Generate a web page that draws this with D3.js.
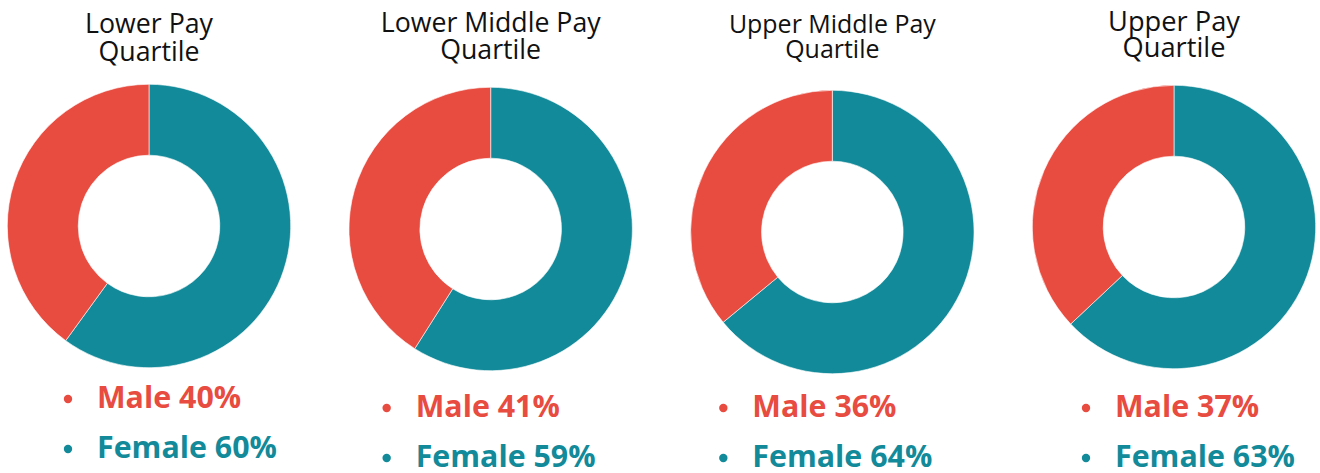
<!DOCTYPE html>
<html>
<head>
<meta charset="utf-8">
<script src="https://cdn.jsdelivr.net/npm/d3@7"></script>
<style>
  body { margin: 0; background: #fff; }
  svg { display: block; }
</style>
</head>
<body>
<svg id="chart" width="1320" height="473"></svg>
<script>
// data
const quartiles = ["Lower Pay Quartile", "Lower Middle Pay Quartile", "Upper Middle Pay Quartile", "Upper Pay Quartile"];
const titleLines = [["Lower Pay", "Quartile"], ["Lower Middle Pay", "Quartile"], ["Upper Middle Pay", "Quartile"], ["Upper Pay", "Quartile"]];
const seriesNames = ["Male", "Female"];
const malePct = [40, 41, 36, 37];
const femalePct = [60, 59, 64, 63];

const colors = { Male: "#e84b3f", Female: "#128a99" };

// per-panel layout tweaks (the panels are not perfectly aligned in the original)
// titleW = width of the first title line in the original, used to size the font
const panelLayout = [
  { dy: -2, titleY: 33, titleGap: 28, titleW: 128, legendDx: -81,  legendY: 408 },
  { dy: 1,  titleY: 32, titleGap: 27, titleW: 220, legendDx: -104, legendY: 417 },
  { dy: 4,  titleY: 33, titleGap: 25, titleW: 207, legendDx: -109, legendY: 417 },
  { dy: -1, titleY: 31, titleGap: 26, titleW: 132, legendDx: -88,  legendY: 417 }
];
const titleFont = "'Open Sans', 'Noto Sans', sans-serif";
const legendFont = "'Open Sans', 'Noto Sans', sans-serif";

const svg = d3.select("#chart");

const xScale = d3.scalePoint().domain(quartiles).range([149, 1174]);
const cyBase = 228;
const outerR = 141.7, innerR = 70.8;

const pie = d3.pie().sort(null).value(d => d.value);
const arc = d3.arc().innerRadius(innerR).outerRadius(outerR);

// size legend font so "Female 60%" is about 180px wide, like the original
const probe = svg.append("text")
  .attr("font-family", legendFont).attr("font-weight", 700).attr("font-size", 30)
  .text("Female 60%");
const legendSize = 30 * 180 / probe.node().getComputedTextLength();
probe.remove();

quartiles.forEach((q, i) => {
  const lay = panelLayout[i];
  const cx = xScale(q);
  const g = svg.append("g").attr("class", "panel");

  // title, two lines
  titleLines[i].forEach((line, j) => {
    g.append("text")
      .attr("class", "title")
      .attr("x", cx)
      .attr("y", lay.titleY + j * lay.titleGap)
      .attr("text-anchor", "middle")
      .attr("font-family", titleFont)
      .attr("font-size", 24)
      .attr("fill", "#111")
      .text(line);
  });
  const titles = g.selectAll("text.title");
  const first = titles.nodes()[0];
  const size = 24 * lay.titleW / first.getComputedTextLength();
  titles.attr("font-size", size);

  // donut: female clockwise from 12 o'clock, male fills the rest
  const slices = [
    { name: "Female", value: femalePct[i] },
    { name: "Male", value: malePct[i] }
  ];
  g.append("g")
    .attr("transform", `translate(${cx},${cyBase + lay.dy})`)
    .selectAll("path")
    .data(pie(slices))
    .join("path")
    .attr("d", arc)
    .attr("fill", d => colors[d.data.name])
    .attr("stroke", "#fff")
    .attr("stroke-width", 0.6);

  // legend
  const values = { Male: malePct[i], Female: femalePct[i] };
  const leg = g.append("g").attr("transform", `translate(${cx + lay.legendDx},${lay.legendY})`);
  seriesNames.forEach((name, j) => {
    const row = leg.append("g").attr("transform", `translate(0,${j * 50})`);
    row.append("circle")
      .attr("cx", 0)
      .attr("cy", -9)
      .attr("r", 4.2)
      .attr("fill", colors[name]);
    row.append("text")
      .attr("x", 29)
      .attr("y", 0)
      .attr("font-family", legendFont)
      .attr("font-weight", 700)
      .attr("font-size", legendSize)
      .attr("fill", colors[name])
      .text(`${name} ${values[name]}%`);
  });
});
</script>
</body>
</html>
